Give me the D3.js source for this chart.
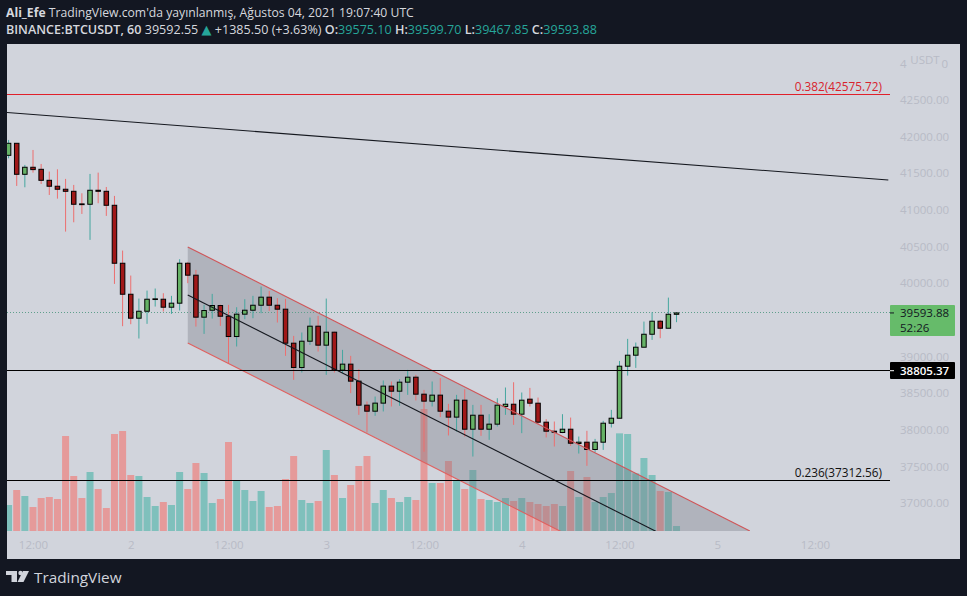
<!DOCTYPE html>
<html>
<head>
<meta charset="utf-8">
<script src="https://cdn.jsdelivr.net/npm/d3@7"></script>
<style>
  html, body { margin: 0; padding: 0; background: #131722; }
  svg { display: block; }
  text { font-family: 'Open Sans', sans-serif; }
</style>
</head>
<body>
<div id="chart"></div>
<script>
// candles, hourly from Aug 1 09:00 UTC
var firstCandle = Date.UTC(2021, 7, 1, 9)
var opens = [41745,41909,41486,41582,41554,41404,41323,41282,41254,41082,41077,41268,41254,41063,40272,39849,39522,39617,39777,39781,39672,39727,40272,40109,39536,39631,39695,39549,39272,39577,39631,39699,39809,39699,39645,39181,38849,39208,39413,39154,39331,38813,38895,38663,38335,38253,38363,38595,38526,38649,38717,38485,38390,38472,38253,38172,38403,38007,38198,38007,38076,38317,38348,38212,38417,38362,38103,37980,37962,38007,37812,37830,37730,37830,38089,38157,38867,39017,39126,39303,39481,39385,39575.10]
var highs = [41955,41909,41614,41818,41627,41523,41554,41423,41341,41227,41491,41509,41313,41191,40445,40104,39790,39899,39927,39863,39827,40327,40290,40181,39704,39854,39708,39704,39672,39781,39827,39954,39895,39795,39786,39281,39327,39531,39554,39790,39340,39090,39008,38826,38385,38453,38672,38658,38690,38817,38749,38544,38658,38704,38353,38476,38553,38339,38339,38212,38430,38576,38648,38508,38571,38439,38144,38112,38212,38166,37907,37985,37875,38121,38271,38939,39240,39190,39476,39603,39499,39803,39599.70]
var lows = [41704,41327,41309,41509,41354,41204,41154,40704,40831,40945,40591,41091,40918,39990,39413,39440,39245,39445,39681,39613,39581,39627,40000,39408,39308,39517,39417,38908,39136,39508,39522,39590,39622,39463,39008,38681,38781,39158,39067,38749,38781,38772,38499,38203,37962,38190,38249,38317,38326,38476,38399,37699,38317,38172,37922,37976,37907,37634,37916,37862,38044,38203,38066,37953,38317,38076,37894,37771,37953,37780,37675,37507,37689,37725,38030,38157,38739,38844,39126,39226,39249,39385,39467.85]
var closes = [41909,41486,41582,41550,41404,41323,41282,41254,41077,41072,41268,41254,41063,40272,39849,39522,39617,39781,39786,39672,39727,40272,40109,39536,39627,39695,39549,39272,39577,39631,39699,39809,39699,39645,39181,38849,39208,39413,39154,39331,38813,38895,38663,38335,38253,38363,38595,38526,38649,38717,38485,38390,38472,38253,38172,38404,38007,38198,38007,38076,38335,38348,38212,38403,38362,38103,37980,37966,38007,37816,37830,37730,37830,38089,38157,38867,39017,39126,39303,39481,39385,39576,39593.88]
var volumes = [78,123,105,72,99,102,96,285,165,99,177,126,69,291,300,168,165,102,75,87,78,177,126,204,174,84,96,267,150,123,90,120,72,75,156,225,93,84,90,243,168,99,138,195,225,84,123,99,87,102,93,366,144,144,210,153,126,183,96,93,87,99,90,99,87,81,75,81,75,180,102,162,87,102,114,293,291,173,219,168,120,117,15]

// 39500 sits behind the green price tag in the reference
var priceTicks = [42500,42000,41500,41000,40500,40000,39000,38500,38000,37500,37000]
var timeTicks = [Date.UTC(2021,7,1,12),Date.UTC(2021,7,2),Date.UTC(2021,7,2,12),Date.UTC(2021,7,3),Date.UTC(2021,7,3,12),Date.UTC(2021,7,4),Date.UTC(2021,7,4,12),Date.UTC(2021,7,5),Date.UTC(2021,7,5,12)]

// drawings
var channelTimes = [Date.UTC(2021,7,2,7),Date.UTC(2021,7,5,4)]
var channelUpper = [40495,36618]
var channelMiddle = [39840,35966]
var channelLower = [39185,35308]
var trendTimes = [Date.UTC(2021,7,1,8),Date.UTC(2021,7,5,21)]
var trendPrices = [42336,41409]
var fibRed = 42575.72
var fibBlack = 37312.56
var levelPrice = 38805.37
var lastPrice = 39593.88

var svgWidth = 967
var svgHeight = 596
var pane = { left: 7, right: 890, top: 44, bottom: 531, edge: 960, floor: 559 }

var upColor = '#66b266', downColor = '#a01818'
var upWick = '#45a79f', downWick = '#ec6f6f'
var upVol = '#7fc0bc', downVol = '#e59a9a'
var tickColor = '#b8bbc6'

var svg = d3.select('#chart').append('svg')
  .attr('width', svgWidth)
  .attr('height', svgHeight)

svg.append('rect').attr('width', svgWidth).attr('height', svgHeight).attr('fill', '#131722')
svg.append('rect')
  .attr('x', pane.left).attr('y', pane.top)
  .attr('width', pane.edge - pane.left).attr('height', pane.floor - pane.top)
  .attr('fill', '#d1d4dc')

svg.append('clipPath').attr('id', 'paneClip').append('rect')
  .attr('x', pane.left).attr('y', pane.top)
  .attr('width', pane.right - pane.left).attr('height', pane.bottom - pane.top)

// scales
var xScale = d3.scaleUtc()
  .domain([Date.UTC(2021,7,1,12), Date.UTC(2021,7,5,12)])
  .range([33, 815])
var yScale = d3.scaleLinear()
  .domain([42500, 37000])
  .range([100, 503])
var volScale = d3.scaleLinear()
  .domain([0, 300])
  .range([pane.bottom, pane.bottom - 100])

var candles = opens.map(function (o, i) {
  return { t: firstCandle + i * 3600000, o: o, h: highs[i], l: lows[i], c: closes[i], v: volumes[i], up: closes[i] >= o }
})

var plot = svg.append('g').attr('clip-path', 'url(#paneClip)')

// volume under everything
plot.selectAll('.vol').data(candles).enter().append('rect')
  .attr('class', 'vol')
  .attr('x', d => xScale(d.t) - 3.5)
  .attr('width', 7)
  .attr('y', d => volScale(d.v))
  .attr('height', d => pane.bottom - volScale(d.v))
  .attr('fill', d => d.up ? upVol : downVol)

// channel fill
function channelPoint (price, i) {
  return [xScale(channelTimes[i]), yScale(price)]
}
var channelPoly = channelUpper.map(channelPoint).concat(channelLower.map(channelPoint).reverse())
plot.append('path')
  .attr('d', d3.line()(channelPoly) + 'Z')
  .attr('fill', '#787b86')
  .attr('fill-opacity', 0.36)

// last price dotted line
plot.append('line')
  .attr('x1', pane.left).attr('x2', pane.right)
  .attr('y1', Math.floor(yScale(lastPrice)) + 0.5).attr('y2', Math.floor(yScale(lastPrice)) + 0.5)
  .attr('stroke', '#5f9f8c').attr('stroke-dasharray', '1,2')

// candles
plot.selectAll('.wick').data(candles).enter().append('line')
  .attr('class', 'wick')
  .attr('x1', d => xScale(d.t)).attr('x2', d => xScale(d.t))
  .attr('y1', d => yScale(d.h)).attr('y2', d => yScale(d.l))
  .attr('stroke', d => d.up ? upWick : downWick)
  .attr('stroke-width', 1)
plot.selectAll('.body').data(candles).enter().append('rect')
  .attr('class', 'body')
  .attr('x', d => xScale(d.t) - 2.25)
  .attr('width', 4.5)
  .attr('y', d => yScale(Math.max(d.o, d.c)))
  .attr('height', d => Math.abs(yScale(d.o) - yScale(d.c)))
  .attr('fill', d => d.up ? upColor : downColor)
  .attr('stroke', '#000')
  .attr('stroke-width', 1)

// channel borders and middle line
function channelLine (prices, color) {
  plot.append('line')
    .attr('x1', xScale(channelTimes[0])).attr('y1', yScale(prices[0]))
    .attr('x2', xScale(channelTimes[1])).attr('y2', yScale(prices[1]))
    .attr('stroke', color).attr('stroke-width', 1.1)
}
channelLine(channelUpper, '#cf5558')
channelLine(channelLower, '#e0605f')
channelLine(channelMiddle, '#15181f')

// trend line + horizontal levels
plot.append('line')
  .attr('x1', xScale(trendTimes[0])).attr('y1', yScale(trendPrices[0]))
  .attr('x2', xScale(trendTimes[1])).attr('y2', yScale(trendPrices[1]))
  .attr('stroke', '#15181f').attr('stroke-width', 1.1)

function level (price, color) {
  plot.append('line')
    .attr('x1', pane.left).attr('x2', pane.right)
    .attr('y1', Math.floor(yScale(price)) + 0.5).attr('y2', Math.floor(yScale(price)) + 0.5)
    .attr('stroke', color)
}
level(fibRed, '#e0202a')
level(levelPrice, '#000')
level(fibBlack, '#000')

svg.append('text').attr('x', 882).attr('y', yScale(fibRed) - 3.5)
  .attr('text-anchor', 'end').attr('font-size', 11.8).attr('fill', '#d8222c')
  .text('0.382(42575.72)')
svg.append('text').attr('x', 882).attr('y', yScale(fibBlack) - 3.5)
  .attr('text-anchor', 'end').attr('font-size', 11.8).attr('fill', '#111')
  .text('0.236(37312.56)')

// price axis
var yAxis = svg.append('g')
  .attr('transform', 'translate(' + pane.right + ',0)')
  .call(d3.axisRight(yScale).tickValues(priceTicks).tickSize(0).tickPadding(10).tickFormat(d3.format('.2f')))
yAxis.select('.domain').remove()
yAxis.selectAll('text').attr('font-family', "'Open Sans', sans-serif").attr('font-size', 11.5).attr('fill', tickColor)

// USDT badge hides the middle of the top tick label
svg.append('text').attr('x', 900).attr('y', 68).attr('font-size', 11.5).attr('fill', tickColor).text('4')
svg.append('text').attr('x', 948).attr('y', 68).attr('text-anchor', 'end').attr('font-size', 11.5).attr('fill', tickColor).text('0')
svg.append('text').attr('x', 925).attr('y', 64).attr('text-anchor', 'middle')
  .attr('font-size', 11.5).attr('fill', tickColor).text('USDT')

// time axis
var xAxis = svg.append('g')
  .attr('transform', 'translate(0,' + pane.bottom + ')')
  .call(d3.axisBottom(xScale).tickValues(timeTicks.map(d => new Date(d))).tickSize(0).tickPadding(10)
    .tickFormat(d => d.getUTCHours() === 12 ? '12:00' : d.getUTCDate()))
xAxis.select('.domain').remove()
xAxis.selectAll('text').attr('font-family', "'Open Sans', sans-serif").attr('font-size', 11.5).attr('fill', tickColor)

// price tags on the axis
svg.append('rect').attr('x', pane.right).attr('y', 305).attr('width', 65).attr('height', 31).attr('rx', 1).attr('fill', '#66bb6a')
svg.append('line').attr('x1', pane.right).attr('x2', pane.right + 4)
  .attr('y1', yScale(lastPrice)).attr('y2', yScale(lastPrice)).attr('stroke', '#131722')
svg.append('text').attr('x', 900).attr('y', yScale(lastPrice) + 4.5).attr('font-size', 11.5).attr('fill', '#131722').text('39593.88')
svg.append('text').attr('x', 900).attr('y', 332).attr('font-size', 11.5).attr('fill', '#131722').text('52:26')

svg.append('rect').attr('x', pane.right).attr('y', 362).attr('width', 65).attr('height', 17).attr('rx', 1).attr('fill', '#000')
svg.append('line').attr('x1', pane.right).attr('x2', pane.right + 4)
  .attr('y1', yScale(levelPrice)).attr('y2', yScale(levelPrice)).attr('stroke', '#fff')
svg.append('text').attr('x', 900).attr('y', yScale(levelPrice) + 4.5).attr('font-size', 11.5).attr('font-weight', 600).attr('fill', '#fff').text('38805.37')

// header
var headerColor = '#d6d8de', tealText = '#26a69a'
var line1 = svg.append('text').attr('x', 6).attr('y', 17).attr('font-size', 12.2).attr('fill', headerColor)
line1.append('tspan').attr('font-weight', 700).text('Ali_Efe')
line1.append('tspan').text(" TradingView.com'da yayınlanmış, Ağustos 04, 2021 19:07:40 UTC")

var line2 = svg.append('text').attr('x', 6).attr('y', 34).attr('font-size', 12.57).attr('fill', headerColor)
line2.append('tspan').attr('font-weight', 600).text('BINANCE:BTCUSDT, 60')
line2.append('tspan').text(' 39592.55 ')
line2.append('tspan').attr('fill', tealText).attr('font-family', 'DejaVu Sans').attr('font-size', 13).text('▲')
line2.append('tspan').text(' +1385.50 (+3.63%) ')
var ohlc = [['O:', opens[82]], ['H:', highs[82]], ['L:', lows[82]], ['C:', closes[82]]]
ohlc.forEach(function (d) {
  line2.append('tspan').attr('font-weight', 600).text(d[0])
  line2.append('tspan').attr('fill', tealText).text(d3.format('.2f')(d[1]) + ' ')
})

// footer logo
var logo = svg.append('g').attr('transform', 'translate(6,571)').attr('fill', '#d1d4dc')
logo.append('path').attr('d', 'M0 0H11V11H5.5V4H0Z')
logo.append('circle').attr('cx', 14.5).attr('cy', 2).attr('r', 2.2)
logo.append('path').attr('d', 'M17 0H23L17.5 11H11.5Z')
svg.append('text').attr('x', 34).attr('y', 583).attr('font-family', "'Inter', sans-serif")
  .attr('font-size', 15.3).attr('font-weight', 500).attr('fill', '#d1d4dc').text('TradingView')
</script>
</body>
</html>
